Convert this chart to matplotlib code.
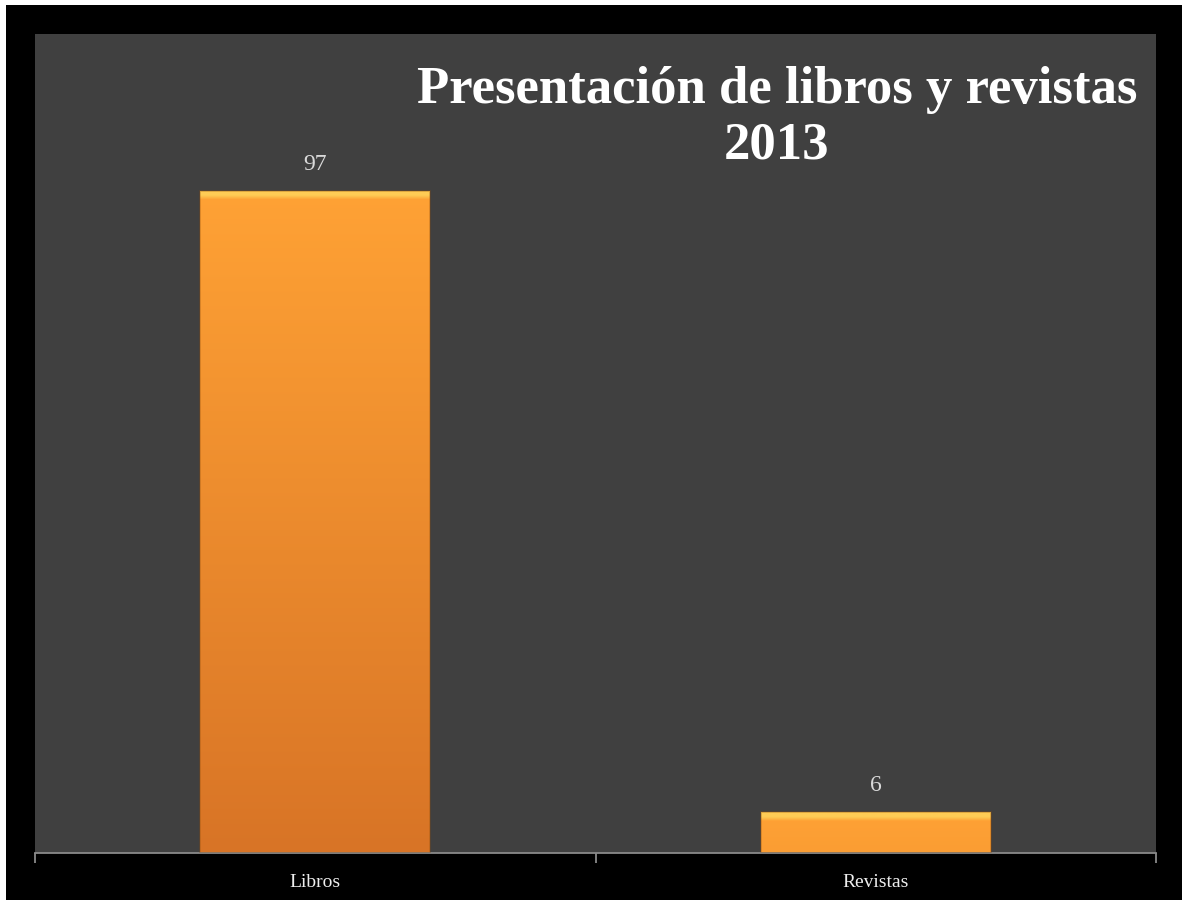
import matplotlib
matplotlib.use('AGG')
import matplotlib.pyplot as plt
import matplotlib.patches as mpatches
from matplotlib.colors import to_rgb
import numpy as np

categories = ['Libros', 'Revistas']
values = [97, 6]
title = 'Presentación de libros y revistas\n2013'

plt.rcParams['font.family'] = ['Liberation Serif', 'DejaVu Serif']

fig = plt.figure(figsize=(11.82, 9), dpi=100, facecolor='white')
# black slide background inside a thin white margin
fig.patches.append(mpatches.Rectangle((6 / 1182, 0), 1, 1 - 5 / 900, transform=fig.transFigure,
                                      facecolor='black', edgecolor='none', zorder=-10))

ax = fig.add_axes([35 / 1182, 47 / 900, 1121 / 1182, 819 / 900])
ax.set_facecolor('#404040')
ax.set_xlim(-0.5, 1.5)
ax.set_ylim(0, 120)

for side in ['top', 'right', 'left']:
    ax.spines[side].set_visible(False)
ax.spines['bottom'].set_color('#8a8a8a')
ax.spines['bottom'].set_linewidth(1.3)

ax.set_yticks([])
ax.set_xticks(range(len(categories)))
ax.set_xticklabels(categories, fontsize=14, color='#eeeeee')
ax.tick_params(axis='x', which='major', length=0, pad=15)
ax.set_xticks([-0.5, 0.5, 1.5], minor=True)
ax.tick_params(axis='x', which='minor', length=7, width=1.3, color='#8a8a8a')

top_c = np.array(to_rgb('#ffa235'))
bot_c = np.array(to_rgb('#d87426'))
bevel_c = np.array(to_rgb('#ffcc55'))
width = 0.41
vmax = max(values)

bars = ax.bar(range(len(values)), values, width=width, color='none', edgecolor='none', zorder=2)
for bar, v in zip(bars, values):
    x0 = bar.get_x()
    n = 600
    ys = np.linspace(v, 0, n)  # row 0 = top
    d = v - ys
    t = np.clip(d / vmax, 0, 1) * 0.95 + 0.05 * (d / v)
    cols = top_c[None, :] * (1 - t[:, None]) + bot_c[None, :] * t[:, None]
    w = np.clip((1.3 - d) / 0.6, 0, 1)[:, None]
    cols = cols * (1 - w) + bevel_c[None, :] * w
    img = np.repeat(cols[:, None, :], 2, axis=1)
    im = ax.imshow(img, extent=[x0, x0 + width, 0, v], aspect='auto', zorder=2,
                   interpolation='bilinear')
    im.set_clip_path(bar)
    # subtle darker side edges
    ax.add_patch(mpatches.Rectangle((x0, 0), width, v, facecolor='none',
                                    edgecolor=(0.55, 0.3, 0.05, 0.35), linewidth=1.2, zorder=3))
    ax.text(bar.get_x() + width / 2, v + 2.3, str(v), ha='center', va='bottom',
            fontsize=17, color='#d9d9d9', zorder=4)

fig.text(777 / 1182, 1 - 66 / 900, title, ha='center', va='top', fontsize=38,
         fontweight='bold', color='white', linespacing=1.2)

fig.savefig('out.png', dpi=100, facecolor=fig.get_facecolor())
